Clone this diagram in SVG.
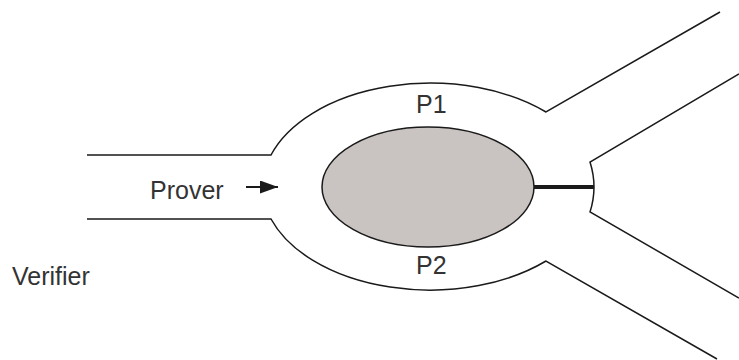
<svg xmlns="http://www.w3.org/2000/svg" width="739" height="360" viewBox="0 0 739 360">
  <style>
    .wall { fill: none; stroke: #1a1a1a; stroke-width: 1.5; stroke-linejoin: miter; }
    .label { font-family: "Liberation Sans", Arial, sans-serif; font-size: 25px; fill: #333333; }
  </style>
  <defs>
    <marker id="head" viewBox="0 0 10 10" refX="10" refY="5" markerWidth="9" markerHeight="6.5" markerUnits="strokeWidth" orient="auto" preserveAspectRatio="none">
      <path d="M0,0 L10,5 L0,10 Z" fill="#1a1a1a"/>
    </marker>
  </defs>
  <rect width="739" height="360" fill="#ffffff"/>

  <!-- cave walls -->
  <g id="cave">
    <path class="wall" d="M87,155 L271,155 A168,105 0 0 1 546,112 L720,12"/>
    <path class="wall" d="M87,219 L271,219 A168,105 0 0 0 546,261 L717,359"/>
    <path class="wall" d="M739,74 L590,162 Q598,187 590,212 L739,298"/>
  </g>

  <!-- central rock with the door -->
  <g id="rock">
    <ellipse cx="428" cy="187" rx="106" ry="60" fill="#c9c4c1" stroke="#1a1a1a" stroke-width="1.5"/>
  </g>
  <g id="door">
    <line x1="534" y1="187" x2="594" y2="187" stroke="#1a1a1a" stroke-width="4"/>
  </g>

  <g id="connectors">
    <line x1="246" y1="187" x2="278" y2="187" stroke="#1a1a1a" stroke-width="2" marker-end="url(#head)"/>
  </g>

  <g id="labels">
    <text class="label" x="150" y="199">Prover</text>
    <text class="label" x="12" y="285">Verifier</text>
    <text class="label" x="416" y="113">P1</text>
    <text class="label" x="416" y="274">P2</text>
  </g>
</svg>
